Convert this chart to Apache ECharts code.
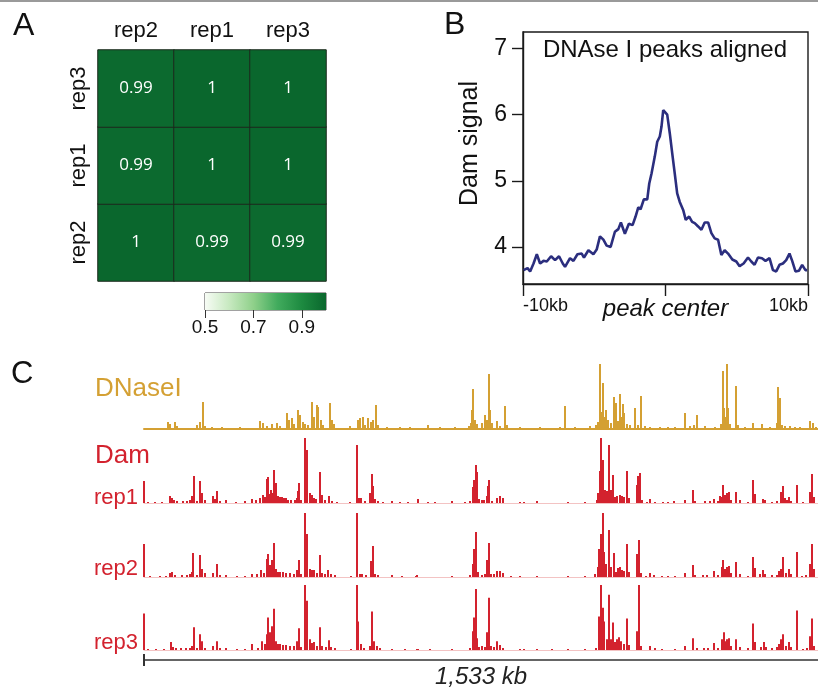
<!DOCTYPE html>
<html>
<head>
<meta charset="utf-8">
<script src="https://cdn.jsdelivr.net/npm/echarts@6/dist/echarts.min.js"></script>
<style>
  html, body { margin: 0; padding: 0; background: #fff; }
  #main { width: 818px; height: 690px; }
</style>
</head>
<body>
<div id="main"></div>
<script>
// ---- A: replicate correlation ----
var colNames = ['rep2', 'rep1', 'rep3'];
var rowNames = ['rep2', 'rep1', 'rep3'];          // bottom -> top
var corrRowRep2 = [1, 0.99, 0.99];
var corrRowRep1 = [0.99, 1, 1];
var corrRowRep3 = [0.99, 1, 1];
var colorRange = [0.5, 1.0];
var colorTicks = [0.5, 0.7, 0.9];
var greenRamp = ['#f7fcf5', '#c7e9c0', '#8fd08a', '#41ab5d', '#1d8a40', '#0a672d'];

// ---- B: Dam signal around DNase I peaks (kb from peak center) ----
var profilePos = [-9.96,-9.68,-9.50,-9.26,-9.03,-8.80,-8.56,-8.33,-8.03,-7.75,
  -7.47,-7.21,-7.05,-6.70,-6.46,-6.18,-5.88,-5.72,-5.41,-5.06,
  -4.83,-4.60,-4.36,-4.13,-3.85,-3.55,-3.31,-3.13,-2.85,-2.57,
  -2.31,-2.10,-1.91,-1.75,-1.52,-1.28,-1.14,-0.98,-0.75,-0.58,
  -0.40,-0.28,-0.16,-0.05,0.12,0.30,0.47,0.65,0.82,1.00,
  1.24,1.42,1.66,1.87,2.05,2.29,2.52,2.75,2.99,3.22,
  3.45,3.69,3.92,4.15,4.39,4.69,4.97,5.20,5.48,5.79,
  6.02,6.25,6.49,6.77,7.02,7.30,7.54,7.77,8.00,8.24,
  8.47,8.70,8.89,9.12,9.36,9.59,9.82,9.94];
var profileSignal = [3.65,3.68,3.63,3.75,3.89,3.75,3.79,3.78,3.86,3.80,
  3.86,3.75,3.70,3.83,3.79,3.89,3.90,3.84,3.95,3.89,
  3.96,4.16,4.11,4.02,4.00,4.23,4.27,4.37,4.20,4.35,
  4.33,4.46,4.60,4.57,4.72,4.72,4.96,5.11,5.37,5.59,
  5.67,5.82,6.07,6.10,6.00,5.72,5.42,5.11,4.81,4.68,
  4.56,4.41,4.46,4.38,4.36,4.31,4.26,4.37,4.37,4.21,
  4.13,4.11,3.88,3.95,3.90,3.81,3.78,3.71,3.75,3.84,
  3.78,3.73,3.84,3.83,3.79,3.83,3.65,3.63,3.73,3.75,
  3.80,3.90,3.79,3.63,3.64,3.73,3.65,3.65];
var profileYTicks = [4, 5, 6, 7];
var profileXTicks = [-10, 0, 10];

// ---- C: genome tracks, [bin, signal]; 674 bins ~ 1,533 kb ----
var dnaseTrack = [[24,7],[26,5],[31,7],[33,3],[53,4],[56,7],[59,27],[61,3],[68,2],[78,2],[96,2],[116,8],[119,6],[123,3],[128,5],[133,6],[136,3],[143,16],[145,9],[148,11],[150,5],[154,19],[156,14],[159,7],[161,5],[164,4],[168,27],[170,12],[173,24],[174,22],[177,9],[179,4],[186,26],[188,9],[190,5],[206,3],[214,9],[216,11],[219,12],[221,4],[224,11],[227,7],[229,9],[232,24],[234,4],[243,2],[256,2],[266,2],[284,4],[296,2],[311,2],[325,3],[327,6],[328,19],[329,40],[331,9],[333,5],[338,6],[341,14],[343,9],[345,55],[346,19],[348,6],[353,8],[356,3],[361,23],[363,4],[376,2],[396,2],[416,2],[421,23],[431,2],[446,3],[452,4],[454,7],[456,65],[458,17],[459,46],[461,12],[462,19],[464,9],[467,6],[470,32],[472,26],[474,8],[476,35],[478,12],[479,25],[480,16],[483,5],[486,4],[491,21],[494,4],[497,33],[501,3],[506,2],[516,2],[524,2],[531,2],[541,16],[546,3],[550,4],[553,14],[561,3],[571,2],[577,5],[579,58],[580,21],[582,12],[583,65],[584,21],[586,5],[592,43],[594,4],[601,2],[609,6],[618,5],[626,2],[633,6],[634,42],[636,31],[638,4],[641,3],[646,3],[651,2],[656,2],[666,8],[669,6],[672,2]];
var damRep1 = [[0,22],[4,1],[11,1],[18,1],[26,7],[28,5],[30,3],[33,2],[39,2],[43,2],[46,3],[48,7],[50,27],[53,2],[56,22],[58,10],[61,3],[69,7],[71,4],[73,12],[76,2],[82,3],[92,1],[101,2],[108,4],[112,3],[116,5],[119,8],[121,6],[123,24],[124,26],[126,9],[127,13],[128,10],[130,33],[132,20],[134,7],[136,6],[138,6],[140,5],[142,5],[144,3],[147,3],[151,3],[153,5],[154,12],[155,20],[157,3],[161,65],[163,53],[166,10],[168,8],[170,5],[172,4],[176,31],[178,8],[181,3],[185,7],[188,2],[193,1],[206,1],[213,58],[215,5],[217,5],[221,2],[226,10],[228,29],[229,17],[231,4],[234,2],[239,1],[248,2],[256,1],[264,1],[274,4],[284,1],[291,1],[308,2],[321,1],[326,2],[329,16],[330,23],[332,38],[333,31],[335,4],[338,3],[340,3],[343,7],[344,17],[345,23],[348,2],[353,5],[356,7],[359,5],[376,1],[380,1],[393,2],[424,1],[441,1],[453,3],[454,10],[456,32],[457,65],[459,43],[461,13],[463,12],[465,58],[467,13],[469,28],[471,6],[473,7],[476,8],[478,7],[480,6],[483,32],[485,5],[493,18],[494,27],[496,30],[498,3],[503,1],[506,4],[511,1],[519,1],[524,1],[530,2],[541,3],[549,13],[551,2],[561,2],[566,2],[570,4],[574,2],[576,7],[578,6],[579,18],[581,8],[583,10],[585,11],[587,3],[592,11],[596,3],[604,1],[609,23],[611,9],[619,4],[621,3],[628,1],[633,2],[637,11],[639,17],[641,5],[643,3],[645,6],[647,2],[653,18],[659,1],[666,11],[668,29],[670,6]];
var damRep2 = [[0,33],[6,1],[16,1],[22,1],[26,4],[28,5],[31,2],[38,2],[43,2],[46,3],[48,5],[49,24],[53,2],[56,22],[58,8],[61,4],[69,4],[73,13],[76,2],[82,2],[93,1],[101,1],[108,3],[113,3],[117,7],[120,4],[123,18],[124,23],[126,12],[128,17],[130,34],[132,8],[134,5],[136,5],[139,5],[142,4],[146,4],[150,3],[153,7],[155,17],[157,3],[161,64],[163,43],[166,8],[168,7],[170,7],[173,4],[176,22],[178,4],[181,3],[184,7],[187,3],[191,2],[207,1],[213,64],[216,3],[218,3],[222,2],[227,16],[229,31],[231,3],[234,2],[248,2],[258,1],[272,1],[273,2],[308,1],[326,2],[329,13],[330,28],[332,45],[334,5],[338,2],[341,3],[343,17],[345,34],[347,3],[350,3],[353,6],[356,6],[359,4],[367,1],[376,1],[393,1],[424,1],[441,1],[451,3],[454,10],[455,28],[457,43],[459,64],[460,25],[462,13],[465,47],[467,10],[470,24],[472,5],[474,9],[476,10],[478,7],[480,6],[483,33],[485,5],[493,23],[495,37],[497,4],[502,1],[506,4],[510,2],[518,1],[524,1],[531,1],[541,4],[549,12],[551,2],[559,2],[563,2],[570,6],[574,2],[578,10],[579,17],[581,8],[583,10],[585,11],[587,4],[592,15],[596,3],[604,1],[609,20],[611,9],[616,3],[619,7],[621,3],[628,2],[633,2],[635,6],[637,8],[639,20],[642,4],[645,8],[647,3],[653,25],[658,1],[662,2],[666,13],[668,33],[670,8]];
var damRep3 = [[0,37],[4,1],[12,1],[20,1],[27,8],[29,3],[32,2],[37,2],[42,2],[46,2],[48,4],[50,23],[53,2],[56,16],[58,9],[61,2],[69,4],[73,9],[76,2],[82,2],[93,1],[101,1],[108,6],[114,2],[118,9],[121,6],[123,16],[124,33],[126,18],[128,24],[130,42],[132,9],[134,6],[136,6],[139,5],[142,5],[146,4],[150,4],[153,9],[155,22],[157,3],[161,66],[163,50],[166,11],[168,7],[170,8],[173,4],[176,23],[178,4],[182,3],[185,10],[187,3],[191,2],[207,1],[213,66],[214,29],[217,6],[220,2],[226,4],[228,39],[230,9],[233,4],[236,2],[248,1],[261,1],[273,1],[274,1],[286,1],[308,1],[326,2],[329,19],[330,33],[332,62],[333,12],[335,3],[338,4],[341,3],[343,18],[345,53],[347,4],[350,3],[353,9],[356,5],[359,2],[376,1],[380,1],[393,1],[408,1],[424,1],[441,1],[452,2],[455,34],[457,66],[459,43],[460,29],[463,11],[465,56],[467,11],[469,28],[471,8],[473,11],[475,13],[477,9],[480,6],[483,32],[485,5],[493,19],[495,66],[497,4],[506,4],[511,2],[518,1],[531,1],[541,4],[549,12],[553,2],[560,2],[564,2],[570,7],[574,2],[578,11],[580,18],[582,9],[583,11],[585,12],[587,4],[592,11],[596,3],[604,2],[609,27],[611,8],[617,3],[620,8],[622,3],[628,2],[633,3],[635,6],[637,11],[639,16],[642,4],[645,8],[647,3],[653,40],[659,1],[663,2],[666,14],[668,32],[670,4]];
var trackBins = 674;
var scaleLabel = '1,533 kb';

var GOLD = '#d4a033', RED = '#d3222e', FONT = '"Liberation Sans", Arial, sans-serif';

var chart = echarts.init(document.getElementById('main'));

var corrRows = [corrRowRep2, corrRowRep1, corrRowRep3];
var heatData = [];
corrRows.forEach(function (row, y) {
    row.forEach(function (v, x) { heatData.push([x, y, v]); });
});

var rampStops = greenRamp.map(function (c, i) {
    return { offset: i / (greenRamp.length - 1), color: c };
});

function trackAxes(grid, lineColor, lineWidth) {
    return {
        x: { type: 'value', gridIndex: grid, min: 0, max: trackBins,
             axisLine: { show: true, onZero: false, lineStyle: { color: lineColor, width: lineWidth } },
             axisTick: { show: false }, axisLabel: { show: false }, splitLine: { show: false } },
        y: { type: 'value', gridIndex: grid, min: 0, max: 66, show: false }
    };
}
var tDn = trackAxes(3, GOLD, 2), t1 = trackAxes(4, '#f3c3c3', 1),
    t2 = trackAxes(5, '#f3c3c3', 1), t3 = trackAxes(6, '#f3c3c3', 1);

function text(x, y, str, size, color, align, extra) {
    var st = { text: str, x: 0, y: 0, fill: color || '#111',
        font: (extra || '') + ' ' + size + 'px ' + FONT,
        textAlign: align || 'left', align: align || 'left',
        textVerticalAlign: 'middle', verticalAlign: 'middle' };
    return { type: 'text', x: x, y: y, style: st };
}

var option = {
    animation: false,
    textStyle: { fontFamily: FONT },
    grid: [
        { left: 98, top: 50, width: 228, height: 231 },
        { left: 205, top: 293, width: 121, height: 17, show: true, borderColor: '#444', borderWidth: 1 },
        { left: 523, top: 32, width: 285, height: 252, show: true, borderColor: '#1a1a1a', borderWidth: 1.4 },
        { left: 144, top: 363, width: trackBins, height: 66 },
        { left: 144, top: 437, width: trackBins, height: 66 },
        { left: 144, top: 511, width: trackBins, height: 66 },
        { left: 144, top: 585, width: trackBins, height: 66 }
    ],
    visualMap: { show: false, seriesIndex: 0, min: colorRange[0], max: colorRange[1],
                 inRange: { color: greenRamp } },
    xAxis: [
        { type: 'category', gridIndex: 0, position: 'top', data: colNames,
          axisLine: { show: false }, axisTick: { show: false },
          axisLabel: { fontSize: 22, color: '#111', margin: 8 } },
        { type: 'value', gridIndex: 1, min: colorRange[0], max: colorRange[1],
          axisLine: { show: false }, splitLine: { show: false },
          axisTick: { show: true, length: 8, customValues: colorTicks, lineStyle: { color: '#333' } },
          axisLabel: { customValues: colorTicks, fontSize: 19, color: '#111', margin: 8 } },
        { type: 'value', gridIndex: 2, min: -10, max: 10,
          axisLine: { show: true, onZero: false, lineStyle: { color: '#1a1a1a', width: 1.4 } },
          splitLine: { show: false },
          axisTick: { show: true, length: 12, customValues: profileXTicks, lineStyle: { color: '#1a1a1a', width: 1.4 } },
          axisLabel: { customValues: profileXTicks, fontSize: 18, color: '#111', margin: 13,
                       alignMinLabel: 'left', alignMaxLabel: 'right',
                       formatter: function (v) { return v === 0 ? '{pc|peak center}' : v + 'kb'; },
                       rich: { pc: { fontSize: 24, fontStyle: 'italic', color: '#111' } } } },
        tDn.x, t1.x, t2.x, t3.x,
        { type: 'value', gridIndex: 6, min: 0, max: trackBins, position: 'bottom', offset: 10,
          axisLine: { show: true, onZero: false, lineStyle: { color: '#333', width: 1.5 },
                      symbol: ['rect', 'none'], symbolSize: [12, 2] },
          axisTick: { show: false }, axisLabel: { show: false }, splitLine: { show: false },
          name: scaleLabel, nameLocation: 'middle', nameGap: 5,
          nameTextStyle: { fontSize: 24, fontStyle: 'italic', color: '#222' } }
    ],
    yAxis: [
        { type: 'category', gridIndex: 0, data: rowNames,
          axisLine: { show: false }, axisTick: { show: false },
          axisLabel: { fontSize: 22, color: '#111', rotate: 90, margin: 8 } },
        { type: 'category', gridIndex: 1, data: ['scale'], show: false },
        { type: 'value', gridIndex: 2, min: 3.44, max: 7.25,
          axisLine: { show: true, onZero: false, lineStyle: { color: '#1a1a1a', width: 1.4 } },
          splitLine: { show: false },
          axisTick: { show: true, length: 11, customValues: profileYTicks, lineStyle: { color: '#1a1a1a', width: 1.4 } },
          axisLabel: { customValues: profileYTicks, fontSize: 23, color: '#111', margin: 16 },
          name: 'Dam signal', nameLocation: 'middle', nameGap: 40,
          nameTextStyle: { fontSize: 25, color: '#111', padding: [0, 0, 0, 29] } },
        tDn.y, t1.y, t2.y, t3.y
    ],
    series: [
        { type: 'heatmap', xAxisIndex: 0, yAxisIndex: 0, data: heatData,
          itemStyle: { borderColor: '#1c2a1e', borderWidth: 1 },
          label: { show: true, color: '#fff', fontSize: 17, fontFamily: '"Open Sans", sans-serif' } },
        { type: 'bar', xAxisIndex: 1, yAxisIndex: 1, stack: 'cb', silent: true,
          data: [colorRange[0]], barCategoryGap: '0%', itemStyle: { color: 'rgba(0,0,0,0)' } },
        { type: 'bar', xAxisIndex: 1, yAxisIndex: 1, stack: 'cb', silent: true,
          data: [colorRange[1] - colorRange[0]], barCategoryGap: '0%',
          itemStyle: { color: new echarts.graphic.LinearGradient(0, 0, 1, 0, rampStops) } },
        { type: 'line', xAxisIndex: 2, yAxisIndex: 2, showSymbol: false, symbol: 'none',
          data: profilePos.map(function (p, i) { return [p, profileSignal[i]]; }),
          lineStyle: { color: '#2b2e7e', width: 2.6 } },
        { type: 'bar', xAxisIndex: 3, yAxisIndex: 3, data: dnaseTrack, barWidth: 2, itemStyle: { color: GOLD } },
        { type: 'bar', xAxisIndex: 4, yAxisIndex: 4, data: damRep1, barWidth: 2, itemStyle: { color: RED } },
        { type: 'bar', xAxisIndex: 5, yAxisIndex: 5, data: damRep2, barWidth: 2, itemStyle: { color: RED } },
        { type: 'bar', xAxisIndex: 6, yAxisIndex: 6, data: damRep3, barWidth: 2, itemStyle: { color: RED } }
    ],
    graphic: [
        { type: 'line', shape: { x1: 0, y1: 1, x2: 818, y2: 1 }, style: { stroke: '#9a9a9a', lineWidth: 2 } },
        text(13, 26, 'A', 32),
        text(444, 25, 'B', 32),
        text(11, 374, 'C', 31),
        text(665, 50, 'DNAse I peaks aligned', 24, '#111', 'center'),
        text(95, 389, 'DNaseI', 26, GOLD),
        text(95, 456, 'Dam', 26, RED),
        text(138, 498, 'rep1', 22, RED, 'right'),
        text(138, 569, 'rep2', 22, RED, 'right'),
        text(138, 643, 'rep3', 22, RED, 'right')
    ]
};
chart.setOption(option);
</script>
</body>
</html>
